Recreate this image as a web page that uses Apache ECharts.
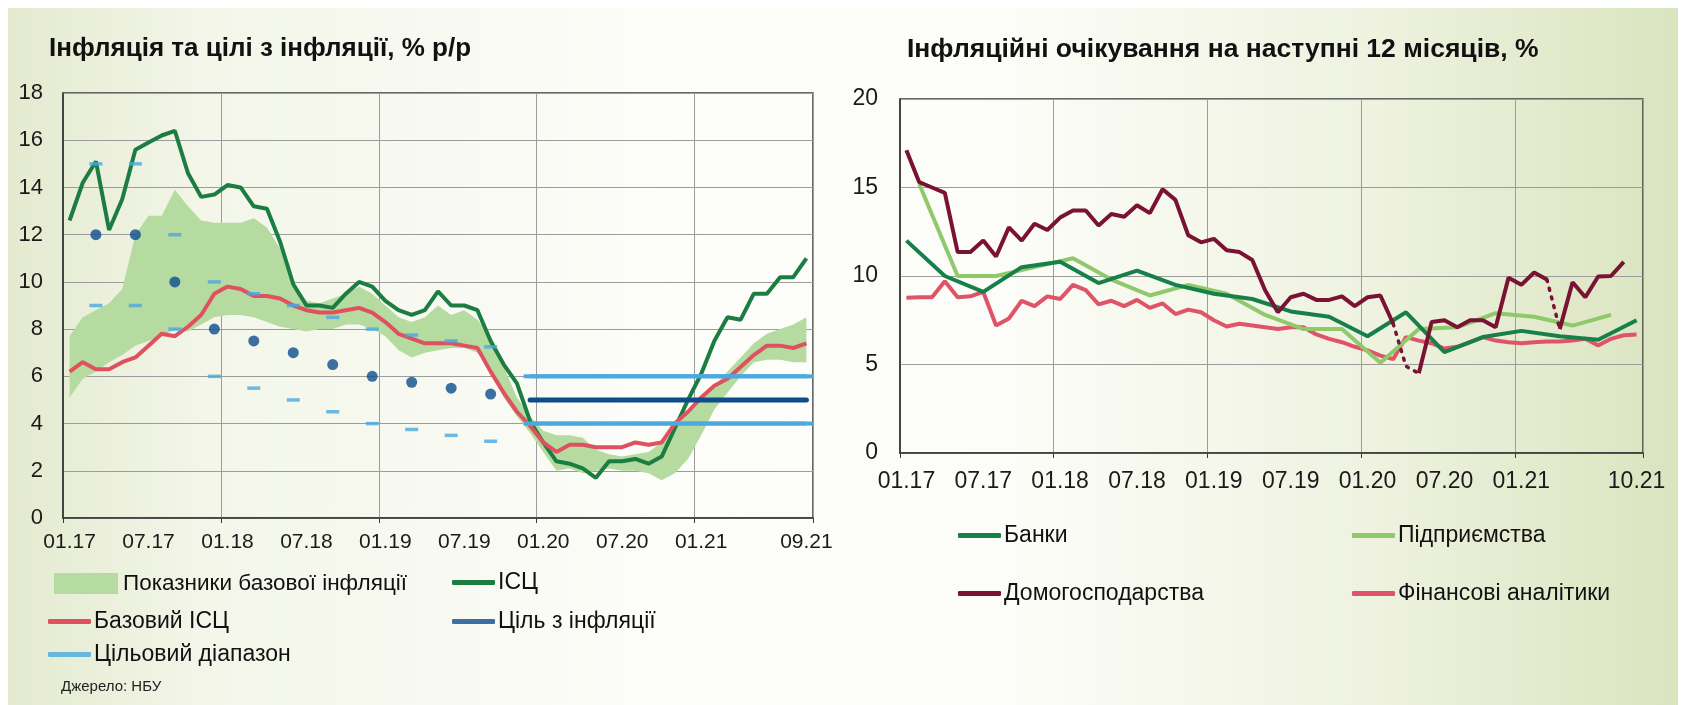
<!DOCTYPE html>
<html>
<head>
<meta charset="utf-8">
<script src="https://cdn.jsdelivr.net/npm/echarts@6/dist/echarts.min.js"></script>
<style>
  html, body { margin: 0; padding: 0; background: #fff; }
  #bg { position: absolute; left: 8px; top: 8px; width: 1670px; height: 697px;
        background: linear-gradient(90deg, #e4eacf 0%, #f3f6e9 12%, #fdfdfa 40%, #fcfdf8 60%, #eef2df 82%, #dae4bf 100%); }
  #chart { position: absolute; left: 0; top: 0; width: 1686px; height: 705px; }
</style>
</head>
<body>
<div id="bg"></div>
<div id="chart"></div>
<script>
// ---- categories ----
function monthList(year, count) {
  const out = [];
  for (let i = 0; i < count; i++) {
    const m = i % 12 + 1, y = year + Math.floor(i / 12);
    out.push(String(m).padStart(2, '0') + '.' + String(y % 100).padStart(2, '0'));
  }
  return out;
}
const leftMonths = monthList(2017, 57);   // 01.17 .. 09.21
const rightMonths = monthList(2017, 58);  // 01.17 .. 10.21
const leftTicks = ['01.17', '07.17', '01.18', '07.18', '01.19', '07.19', '01.20', '07.20', '01.21', '09.21'];
const rightTicks = ['01.17', '07.17', '01.18', '07.18', '01.19', '07.19', '01.20', '07.20', '01.21', '10.21'];

// ---- left chart: inflation and targets, % y/y ----
const cpi = [12.6, 14.2, 15.1, 12.2, 13.5, 15.6, 15.9, 16.2, 16.4, 14.6, 13.6, 13.7,
  14.1, 14.0, 13.2, 13.1, 11.7, 9.9, 9.0, 9.0, 8.9, 9.5, 10.0, 9.8,
  9.2, 8.8, 8.6, 8.8, 9.6, 9.0, 9.0, 8.8, 7.5, 6.5, 5.7, 4.1,
  3.2, 2.4, 2.3, 2.1, 1.7, 2.4, 2.4, 2.5, 2.3, 2.6, 3.8, 5.0,
  6.1, 7.5, 8.5, 8.4, 9.5, 9.5, 10.2, 10.2, 11.0];
const coreCpi = [6.2, 6.6, 6.3, 6.3, 6.6, 6.8, 7.3, 7.8, 7.7, 8.1, 8.6, 9.5,
  9.8, 9.7, 9.4, 9.4, 9.3, 9.0, 8.8, 8.7, 8.7, 8.8, 8.9, 8.7,
  8.3, 7.8, 7.6, 7.4, 7.4, 7.4, 7.3, 7.2, 6.2, 5.3, 4.5, 3.9,
  3.2, 2.8, 3.1, 3.1, 3.0, 3.0, 3.0, 3.2, 3.1, 3.2, 4.0, 4.5,
  5.1, 5.6, 5.9, 6.4, 6.9, 7.3, 7.3, 7.2, 7.4];
const coreRangeLow = [5.1, 5.9, 6.2, 6.6, 6.9, 7.3, 7.5, 7.7, 8.0, 7.9, 8.2, 8.5,
  8.6, 8.6, 8.5, 8.3, 8.1, 8.0, 7.9, 8.0, 8.0, 8.2, 8.2, 8.0,
  7.7, 7.1, 6.8, 7.0, 7.1, 7.2, 7.2, 7.0, 6.3, 5.1, 4.3, 3.6,
  2.8, 2.0, 2.1, 1.9, 2.0, 2.1, 2.0, 2.0, 1.9, 1.6, 1.9, 2.5,
  3.5, 4.6, 5.3, 6.0, 6.6, 6.7, 6.7, 6.6, 6.6];
const coreRangeHigh = [7.7, 8.5, 8.8, 9.1, 9.7, 12.0, 12.8, 12.8, 13.9, 13.2, 12.6, 12.5,
  12.5, 12.5, 12.7, 12.3, 11.4, 10.0, 9.2, 9.1, 9.3, 9.5, 9.8, 9.5,
  9.0, 8.5, 8.3, 8.5, 9.0, 8.6, 8.8, 8.4, 7.7, 6.4, 5.1, 4.3,
  3.7, 3.5, 3.5, 3.4, 2.9, 2.7, 2.6, 2.7, 2.8, 3.2, 3.7, 4.6,
  5.1, 5.6, 6.2, 6.8, 7.4, 7.8, 8.0, 8.2, 8.5];
// quarterly targets before the 5% +/-1 regime
const targetDates = ['03.17', '06.17', '09.17', '12.17', '03.18', '06.18', '09.18', '12.18', '03.19', '06.19', '09.19'];
const targetMid = [12, 12, 10, 8, 7.5, 7, 6.5, 6, 5.75, 5.5, 5.25];
const targetHigh = [15, 15, 12, 10, 9.5, 9, 8.5, 8, 7.75, 7.5, 7.25];
const targetLow = [9, 9, 8, 6, 5.5, 5, 4.5, 4, 3.75, 3.5, 3.25];
// medium-term target from 12.19
const targetFrom = '12.19';
const targetValue = 5, targetRangeHigh = 6, targetRangeLow = 4;

// ---- right chart: inflation expectations for next 12 months, % ----
const bankDates = ['01.17', '04.17', '07.17', '10.17', '01.18', '04.18', '07.18', '10.18', '01.19', '04.19',
  '07.19', '10.19', '01.20', '04.20', '07.20', '10.20', '01.21', '04.21', '07.21', '10.21'];
const banks = [12.0, 10.0, 9.1, 10.5, 10.8, 9.6, 10.3, 9.5, 9.0, 8.7, 8.0, 7.7, 6.6, 7.95, 5.7, 6.55, 6.9, 6.6, 6.4, 7.5];
const firmDates = ['02.17', '05.17', '08.17', '11.17', '02.18', '05.18', '08.18', '11.18', '02.19', '05.19',
  '08.19', '11.19', '02.20', '05.20', '08.20', '11.20', '02.21', '05.21', '08.21'];
const firms = [15.2, 10.0, 10.0, 10.5, 11.0, 9.8, 8.9, 9.5, 9.0, 7.8, 7.0, 7.0, 5.1, 7.0, 7.1, 7.9, 7.7, 7.2, 7.8];
const households = [17.1, 15.3, 15.0, 14.7, 11.35, 11.35, 12.0, 11.1, 12.75, 12.0, 12.95, 12.6,
  13.3, 13.7, 13.7, 12.85, 13.5, 13.35, 14.0, 13.55, 14.9, 14.3, 12.3, 11.9,
  12.1, 11.45, 11.35, 10.9, 9.2, 7.95, 8.8, 9.0, 8.65, 8.65, 8.85, 8.3,
  8.8, 8.9, 7.3, 4.9, 4.5, 7.4, 7.5, 7.1, 7.5, 7.5, 7.1, 9.9,
  9.5, 10.2, 9.8, 7.0, 9.65, 8.8, 9.97, 10.0, 10.8, null];
// household survey breaks drawn dotted: [fromIndex, toIndex]
const householdBreaks = [[38, 40], [50, 51]];
const analysts = [8.77, 8.8, 8.8, 9.7, 8.8, 8.85, 9.1, 7.2, 7.6, 8.6, 8.3, 8.85,
  8.7, 9.5, 9.2, 8.4, 8.6, 8.3, 8.65, 8.2, 8.45, 7.85, 8.1, 7.95,
  7.5, 7.15, 7.3, 7.2, 7.1, 7.0, 7.1, 7.1, 6.7, 6.45, 6.26, 6.0,
  5.8, 5.5, 5.3, 6.55, 6.35, 6.2, 5.9, 6.0, 6.26, 6.55, 6.35, 6.26,
  6.2, 6.26, 6.3, 6.3, 6.35, 6.45, 6.07, 6.45, 6.65, 6.7];

// ---- helpers ----
const placeOn = (cats, dates, vals) => cats.map(c => { const k = dates.indexOf(c); return k < 0 ? null : vals[k]; });
const fromIdx = leftMonths.indexOf(targetFrom);
const flatFrom = v => leftMonths.map((c, i) => i >= fromIdx ? v : null);
const segment = (arr, a, b) => arr.map((v, i) => (i >= a && i <= b ? v : null));

const FONT = '"Liberation Sans", Arial, sans-serif';
const C = {
  cpi: '#1b7d42', core: '#e0515f', band: '#b6dba0', target: '#0d4d8c', range: '#4aa9de',
  banks: '#17804a', firms: '#8fc96c', hh: '#7a1233', fa: '#df5468'
};

// households split into solid pieces and dotted bridges
const hhSolidSegs = [];
let start = 0;
householdBreaks.forEach(([a, b]) => { hhSolidSegs.push([start, a]); start = b; });
hhSolidSegs.push([start, households.length - 1]);

const chart = echarts.init(document.getElementById('chart'));

const catAxis = (idx, cats, ticks, fontSize, margin) => ({
  type: 'category', gridIndex: idx, data: cats, boundaryGap: true,
  axisLine: { lineStyle: { color: '#3a3a3a', width: 1.5 } },
  axisTick: { show: true, length: 5, interval: i => i % 12 === 0, lineStyle: { color: '#3a3a3a' } },
  splitLine: { show: true, interval: i => i % 12 === 0 && i > 0, lineStyle: { color: '#9c9c9c', width: 1 } },
  axisLabel: { interval: (i, v) => ticks.includes(v), color: '#1a1a1a', fontFamily: FONT, fontSize, margin }
});
const valAxis = (idx, max, interval, fontSize, margin) => ({
  type: 'value', gridIndex: idx, min: 0, max, interval,
  axisLine: { show: true, lineStyle: { color: '#3a3a3a', width: 1.5 } },
  axisTick: { show: false },
  splitLine: { show: true, lineStyle: { color: '#9c9c9c', width: 1 } },
  axisLabel: { color: '#1a1a1a', fontFamily: FONT, fontSize, margin }
});
const lineLegend = (name, left, top) => ({
  data: [{ name, icon: 'roundRect' }], left, top, orient: 'horizontal',
  itemWidth: 43, itemHeight: 5, itemGap: 0, selectedMode: false, padding: 0,
  textStyle: { fontFamily: FONT, fontSize: 23, color: '#111', padding: [0, 0, 0, -2] }
});

const series = [
  // core inflation indicators range (stacked band)
  { name: '_base', type: 'line', xAxisIndex: 0, yAxisIndex: 0, data: coreRangeLow, stack: 'band',
    symbol: 'none', lineStyle: { width: 0 }, silent: true, z: 1 },
  { name: 'Показники базової інфляції', type: 'line', xAxisIndex: 0, yAxisIndex: 0, stack: 'band',
    data: coreRangeHigh.map((v, i) => +(v - coreRangeLow[i]).toFixed(2)),
    symbol: 'none', lineStyle: { width: 0 }, itemStyle: { color: C.band },
    areaStyle: { color: C.band, opacity: 1 }, z: 1 },
  { name: 'ІСЦ', type: 'line', xAxisIndex: 0, yAxisIndex: 0, data: cpi, symbol: 'none',
    itemStyle: { color: C.cpi }, lineStyle: { color: C.cpi, width: 4 }, z: 3 },
  { name: 'Базовий ІСЦ', type: 'line', xAxisIndex: 0, yAxisIndex: 0, data: coreCpi, symbol: 'none',
    itemStyle: { color: C.core }, lineStyle: { color: C.core, width: 4 }, z: 3 },
  { name: 'Ціль з інфляції', type: 'scatter', xAxisIndex: 0, yAxisIndex: 0,
    data: placeOn(leftMonths, targetDates, targetMid), symbol: 'circle', symbolSize: 11,
    itemStyle: { color: C.target }, z: 5 },
  { name: 'Цільовий діапазон', type: 'scatter', xAxisIndex: 0, yAxisIndex: 0,
    data: placeOn(leftMonths, targetDates, targetHigh), symbol: 'rect', symbolSize: [13, 3.5],
    itemStyle: { color: C.range }, z: 5 },
  { name: 'Цільовий діапазон', type: 'scatter', xAxisIndex: 0, yAxisIndex: 0,
    data: placeOn(leftMonths, targetDates, targetLow), symbol: 'rect', symbolSize: [13, 3.5],
    itemStyle: { color: C.range }, z: 5 },
  { name: 'Цільовий діапазон', type: 'line', xAxisIndex: 0, yAxisIndex: 0, data: flatFrom(targetRangeHigh),
    symbol: 'rect', symbolSize: [13, 4], showAllSymbol: true,
    itemStyle: { color: C.range }, lineStyle: { color: C.range, width: 4 }, z: 4 },
  { name: 'Цільовий діапазон', type: 'line', xAxisIndex: 0, yAxisIndex: 0, data: flatFrom(targetRangeLow),
    symbol: 'rect', symbolSize: [13, 4], showAllSymbol: true,
    itemStyle: { color: C.range }, lineStyle: { color: C.range, width: 4 }, z: 4 },
  { name: 'Ціль з інфляції', type: 'line', xAxisIndex: 0, yAxisIndex: 0, data: flatFrom(targetValue),
    symbol: 'none', itemStyle: { color: C.target }, lineStyle: { color: C.target, width: 5, cap: 'round' }, z: 4 },

  // right chart
  { name: 'Фінансові аналітики', type: 'line', xAxisIndex: 1, yAxisIndex: 1, data: analysts, symbol: 'none',
    itemStyle: { color: C.fa }, lineStyle: { color: C.fa, width: 4 }, z: 2 },
  { name: 'Підприємства', type: 'line', xAxisIndex: 1, yAxisIndex: 1, connectNulls: true,
    data: placeOn(rightMonths, firmDates, firms), symbol: 'none',
    itemStyle: { color: C.firms }, lineStyle: { color: C.firms, width: 4 }, z: 2 },
  { name: 'Банки', type: 'line', xAxisIndex: 1, yAxisIndex: 1, connectNulls: true,
    data: placeOn(rightMonths, bankDates, banks), symbol: 'none',
    itemStyle: { color: C.banks }, lineStyle: { color: C.banks, width: 4 }, z: 3 }
];
hhSolidSegs.forEach(([a, b]) => series.push({
  name: 'Домогосподарства', type: 'line', xAxisIndex: 1, yAxisIndex: 1, data: segment(households, a, b),
  symbol: 'none', itemStyle: { color: C.hh }, lineStyle: { color: C.hh, width: 4 }, z: 4
}));
householdBreaks.forEach(([a, b]) => series.push({
  name: 'Домогосподарства', type: 'line', xAxisIndex: 1, yAxisIndex: 1, data: segment(households, a, b),
  symbol: 'none', itemStyle: { color: C.hh }, lineStyle: { color: C.hh, width: 3.5, type: [2, 7], cap: 'round' }, z: 4
}));

chart.setOption({
  animation: false,
  title: [
    { text: 'Інфляція та цілі з інфляції, % р/р', left: 44, top: 31,
      textStyle: { fontFamily: FONT, fontWeight: 'bold', fontSize: 26, color: '#111' } },
    { text: 'Інфляційні очікування на наступні 12 місяців, %', left: 902, top: 31,
      textStyle: { fontFamily: FONT, fontWeight: 'bold', fontSize: 26.5, color: '#111' } },
    { text: 'Джерело: НБУ', left: 56, top: 674,
      textStyle: { fontFamily: FONT, fontWeight: 'normal', fontSize: 15, color: '#222' } }
  ],
  grid: [
    { left: 63, top: 93, width: 750, height: 425, show: true, borderColor: '#3a3a3a', borderWidth: 1.5,
      backgroundColor: 'transparent', outerBoundsMode: 'none' },
    { left: 900, top: 99, width: 743, height: 354, show: true, borderColor: '#3a3a3a', borderWidth: 1.5,
      backgroundColor: 'transparent', outerBoundsMode: 'none' }
  ],
  xAxis: [catAxis(0, leftMonths, leftTicks, 21, 14), catAxis(1, rightMonths, rightTicks, 23, 17)],
  yAxis: [valAxis(0, 18, 2, 22, 20), valAxis(1, 20, 5, 23, 22)],
  legend: [
    { data: [{ name: 'Показники базової інфляції', icon: 'rect' }], left: 54, top: 572,
      itemWidth: 64, itemHeight: 21, selectedMode: false, padding: 0,
      textStyle: { fontFamily: FONT, fontSize: 22.5, color: '#111' } },
    lineLegend('ІСЦ', 452, 571),
    lineLegend('Базовий ІСЦ', 48, 610),
    lineLegend('Ціль з інфляції', 452, 610),
    lineLegend('Цільовий діапазон', 48, 643),
    lineLegend('Банки', 958, 524),
    lineLegend('Підприємства', 1352, 524),
    lineLegend('Домогосподарства', 958, 582),
    lineLegend('Фінансові аналітики', 1352, 582)
  ],
  series
});
</script>
</body>
</html>
